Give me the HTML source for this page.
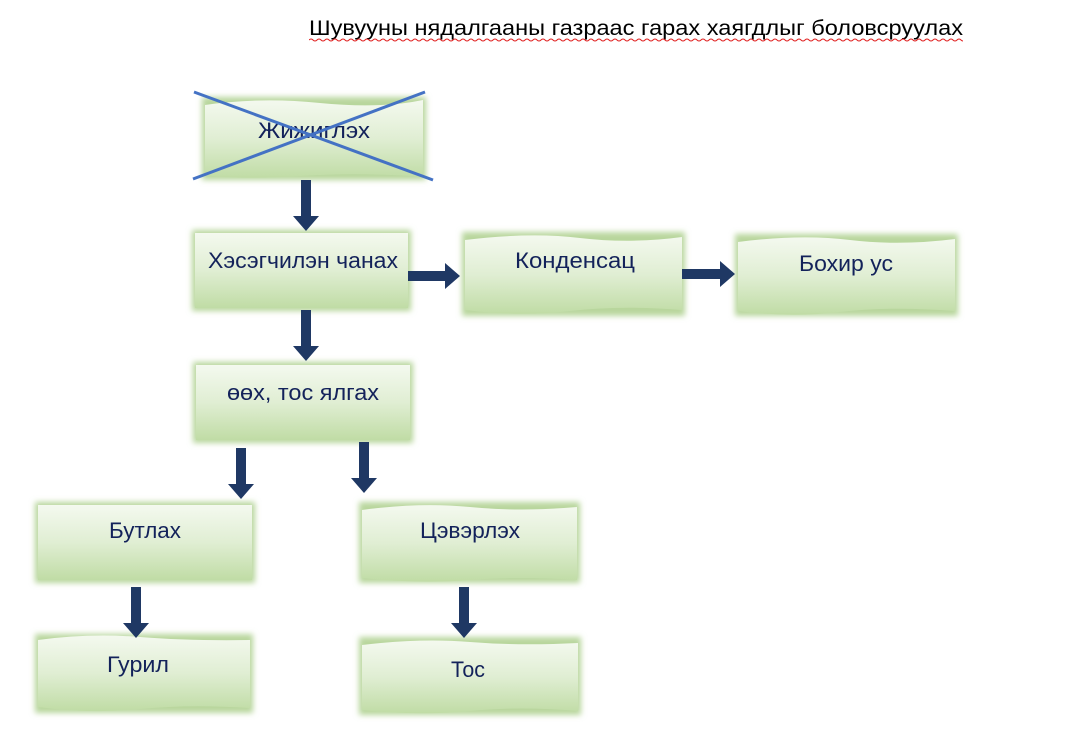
<!DOCTYPE html>
<html><head><meta charset="utf-8"><style>
html,body{margin:0;padding:0;background:#fff;width:1068px;height:753px;overflow:hidden}
svg{display:block}
text{font-family:"Liberation Sans",sans-serif}
</style></head><body>
<svg width="1068" height="753" viewBox="0 0 1068 753" xmlns="http://www.w3.org/2000/svg">
<defs>
<linearGradient id="g" x1="0" y1="0" x2="0" y2="1">
<stop offset="0" stop-color="#f4f9ef"/><stop offset="0.5" stop-color="#e0eed3"/><stop offset="1" stop-color="#c0dca5"/>
</linearGradient>
<filter id="sh" x="-10%" y="-15%" width="120%" height="130%"><feGaussianBlur stdDeviation="3"/></filter>
<clipPath id="tc"><rect x="309" y="30" width="654" height="20"/></clipPath>
</defs>
<text x="309" y="35" font-size="21" fill="#000" textLength="654" lengthAdjust="spacingAndGlyphs">Шувууны нядалгааны газраас гарах хаягдлыг боловсруулах</text>

<g>
<rect x="202" y="97" width="224" height="83" fill="#b8d69c" filter="url(#sh)"/>
<path d="M205 105 Q260 97 320 103 T423 100 L423 177 Q360 172 300 176 T205 175 Z" fill="url(#g)"/>
<rect x="192" y="230" width="219" height="81" fill="#b8d69c" filter="url(#sh)"/>
<rect x="195" y="233" width="213" height="75" fill="url(#g)"/>
<rect x="462" y="232" width="223" height="84" fill="#b8d69c" filter="url(#sh)"/>
<path d="M465 240 Q530 232 580 238 T682 237 L682 310 Q620 305 570 311 T465 310 Z" fill="url(#g)"/>
<rect x="735" y="234" width="223" height="82" fill="#b8d69c" filter="url(#sh)"/>
<path d="M738 242 Q800 234 850 240 T955 239 L955 311 Q890 306 840 312 T738 311 Z" fill="url(#g)"/>
<rect x="193" y="362" width="220" height="81" fill="#b8d69c" filter="url(#sh)"/>
<rect x="196" y="365" width="214" height="75" fill="url(#g)"/>
<rect x="35" y="502" width="220" height="81" fill="#b8d69c" filter="url(#sh)"/>
<rect x="38" y="505" width="214" height="75" fill="url(#g)"/>
<rect x="359" y="502" width="221" height="81" fill="#b8d69c" filter="url(#sh)"/>
<path d="M362 510 Q420 502 470 507 T577 507 L577 580 Q520 576 470 580 T362 578 Z" fill="url(#g)"/>
<rect x="35" y="634" width="218" height="79" fill="#b8d69c" filter="url(#sh)"/>
<path d="M38 640 Q90 633 140 637 T250 640 L250 708 Q190 704 140 709 T38 707 Z" fill="url(#g)"/>
<rect x="359" y="637" width="222" height="78" fill="#b8d69c" filter="url(#sh)"/>
<path d="M362 645 Q420 638 470 642 T578 643 L578 711 Q520 706 470 711 T362 710 Z" fill="url(#g)"/>
</g>

<g font-size="22" fill="#13225a" text-anchor="middle">
<text x="314" y="138" textLength="112" lengthAdjust="spacingAndGlyphs">Жижиглэх</text>
<text x="303" y="268" textLength="190" lengthAdjust="spacingAndGlyphs">Хэсэгчилэн чанах</text>
<text x="575" y="268" textLength="120" lengthAdjust="spacingAndGlyphs">Конденсац</text>
<text x="846" y="271" textLength="94" lengthAdjust="spacingAndGlyphs">Бохир ус</text>
<text x="303" y="400" textLength="152" lengthAdjust="spacingAndGlyphs">өөх, тос ялгах</text>
<text x="145" y="538" textLength="72" lengthAdjust="spacingAndGlyphs">Бутлах</text>
<text x="470" y="538" textLength="100" lengthAdjust="spacingAndGlyphs">Цэвэрлэх</text>
<text x="138" y="672" textLength="62" lengthAdjust="spacingAndGlyphs">Гурил</text>
<text x="468" y="677" textLength="34" lengthAdjust="spacingAndGlyphs">Тос</text>
</g>

<g stroke="#4472c4" stroke-width="3">
<line x1="194" y1="92" x2="433" y2="180"/>
<line x1="425" y1="92" x2="193" y2="179"/>
</g>

<g fill="#1f3864">
<path d="M301 180 h10 v36 h8 l-13 15 l-13 -15 h8 z"/>
<path d="M301 310 h10 v36 h8 l-13 15 l-13 -15 h8 z"/>
<path d="M236 448 h10 v36 h8 l-13 15 l-13 -15 h8 z"/>
<path d="M359 442 h10 v36 h8 l-13 15 l-13 -15 h8 z"/>
<path d="M131 587 h10 v36 h8 l-13 15 l-13 -15 h8 z"/>
<path d="M459 587 h10 v36 h8 l-13 15 l-13 -15 h8 z"/>
<path d="M408 271 h37 v-8 l15 13 l-15 13 v-8 h-37 z"/>
<path d="M682 269 h38 v-8 l15 13 l-15 13 v-8 h-38 z"/>
</g>

<g fill="none" stroke="#e02020" stroke-width="1" clip-path="url(#tc)">
<path d="M309 40 q2 -2 4 0 t4 0 t4 0 t4 0 t4 0 t4 0 t4 0 t4 0 t4 0 t4 0 t4 0 t4 0 t4 0 t4 0 t4 0 t4 0 t4 0 t4 0 t4 0 t4 0 t4 0 t4 0 t4 0 t4 0 t4 0 t4 0 t4 0 t4 0 t4 0 t4 0 t4 0 t4 0 t4 0 t4 0 t4 0 t4 0 t4 0 t4 0 t4 0 t4 0 t4 0 t4 0 t4 0 t4 0 t4 0 t4 0 t4 0 t4 0 t4 0 t4 0 t4 0 t4 0 t4 0 t4 0 t4 0 t4 0 t4 0 t4 0 t4 0 t4 0 t4 0 t4 0 t4 0 t4 0 t4 0 t4 0 t4 0 t4 0 t4 0 t4 0 t4 0 t4 0 t4 0 t4 0 t4 0 t4 0 t4 0 t4 0 t4 0 t4 0 t4 0 t4 0 t4 0 t4 0 t4 0 t4 0 t4 0 t4 0 t4 0 t4 0 t4 0 t4 0 t4 0 t4 0 t4 0 t4 0 t4 0 t4 0 t4 0 t4 0 t4 0 t4 0 t4 0 t4 0 t4 0 t4 0 t4 0 t4 0 t4 0 t4 0 t4 0 t4 0 t4 0 t4 0 t4 0 t4 0 t4 0 t4 0 t4 0 t4 0 t4 0 t4 0 t4 0 t4 0 t4 0 t4 0 t4 0 t4 0 t4 0 t4 0 t4 0 t4 0 t4 0 t4 0 t4 0 t4 0 t4 0 t4 0 t4 0 t4 0 t4 0 t4 0 t4 0 t4 0 t4 0 t4 0 t4 0 t4 0 t4 0 t4 0 t4 0 t4 0 t4 0 t4 0 t4 0 t4 0 t4 0 t4 0 t4 0 t4 0 t4 0 t4 0 t4 0 t4 0 t4 0 t4 0 t4 0 t4 0 t4 0 t4 0 t4 0 t4 0 t4 0 t4 0 t4 0 t4 0 t4 0 t4 0 t4 0 t4 0 t4 0 t4 0 t4 0 t4 0 t4 0 t4 0 t4 0 t4 0 t4 0 t4 0 t4 0 t4 0"/>
</g>
</svg>
</body></html>
